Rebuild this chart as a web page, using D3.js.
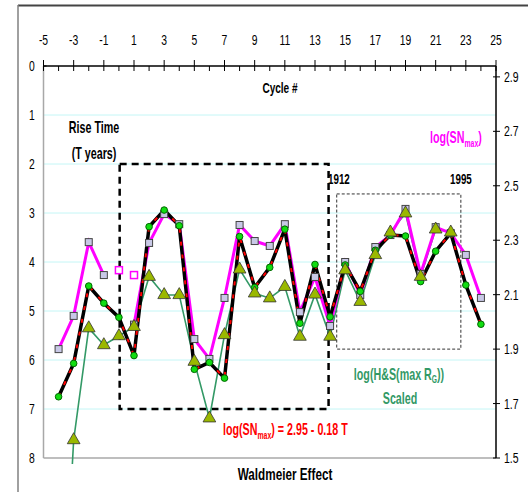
<!DOCTYPE html>
<meta charset="utf-8">
<script src="https://d3js.org/d3.v7.min.js"></script>
<style>
  body { margin: 0; background: #fff; }
  svg text { font-family: "Liberation Sans Narrow", "Arial Narrow", "Liberation Sans", Arial, sans-serif; }
</style>
<div id="chart"></div>
<script>
// cycle numbers along the top axis
var cycles = [-4,-3,-2,-1,0,1,2,3,4,5,6,7,8,9,10,11,12,13,14,15,16,17,18,19,20,21,22,23,24];
// rise time T (years), left axis
var riseTime = [6.75,6.07,4.49,4.84,5.13,5.91,3.28,2.94,3.26,6.19,6.05,6.37,3.48,4.52,4.11,3.33,5.25,4.05,5.12,4.06,4.6,3.76,3.45,3.47,4.40,3.78,3.41,4.47,5.27];
// log(SNmax), right axis
var logSN = [1.90,2.022,2.293,2.172,null,1.99,2.29,2.396,2.359,1.937,1.864,2.088,2.356,2.297,2.279,2.359,2.036,2.165,1.985,2.22,2.099,2.275,2.319,2.415,2.176,2.348,2.326,2.246,2.088];
// open squares (cycles 0 and 1)
var logSNAlt = [null,null,null,null,2.19,2.172,null,null,null,null,null,null,null,null,null,null,null,null,null,null,null,null,null,null,null,null,null,null,null];
// log(H&S(max RG)) scaled, right axis
var hsScaled = [0.55,1.566,1.977,1.915,1.948,1.982,2.166,2.099,2.099,1.854,1.646,1.952,2.193,2.105,2.087,2.129,1.946,2.101,1.946,2.19,2.074,2.246,2.329,2.399,2.166,2.34,2.329,null,null];

var topTicks = [-5,-3,-1,1,3,5,7,9,11,13,15,17,19,21,23,25];
var leftTicks = [0,1,2,3,4,5,6,7,8];
var rightTicks = [1.5,1.7,1.9,2.1,2.3,2.5,2.7,2.9];

var width = 528, height = 492;
var narrow = 0.74;  // squeeze plain text, the original font is condensed
var narrowB = 0.67; // bold text is squeezed a bit more

var svg = d3.select("#chart").append("svg")
    .attr("width", width)
    .attr("height", height);

var x = d3.scaleLinear().domain([-5, 25]).range([43.5, 496]);
var yT = d3.scaleLinear().domain([0, 8]).range([66, 458]);
var yR = d3.scaleLinear().domain([1.5, 2.94]).range([458, 66]);

// text helper: positioned by transform so it can be condensed
function label(g, px, py, size, opts) {
  opts = opts || {};
  var sx = opts.sx || (opts.bold ? narrowB : narrow);
  return g.append("text")
    .attr("transform", "translate(" + px + "," + py + ") scale(" + sx + ",1)")
    .attr("text-anchor", opts.anchor || "start")
    .attr("font-size", size)
    .attr("font-weight", opts.bold ? "bold" : null)
    .attr("fill", opts.fill || "#000");
}

// outer frame lines
svg.append("line").attr("x1", 18).attr("x2", width).attr("y1", 5.5).attr("y2", 5.5)
  .attr("stroke", "#444").attr("stroke-width", 2);
svg.append("line").attr("x1", 18).attr("x2", 18).attr("y1", 5).attr("y2", height)
  .attr("stroke", "#808080").attr("stroke-width", 1.5);

// gridlines
svg.append("g").selectAll("line")
  .data(leftTicks.filter(function(d){ return d > 0 && d < 8; }))
  .enter().append("line")
    .attr("x1", x(-5)).attr("x2", x(25))
    .attr("y1", function(d){ return yT(d); })
    .attr("y2", function(d){ return yT(d); })
    .attr("stroke", "#c4f6f6").attr("stroke-width", 1);

// plot border (left and bottom, grey)
svg.append("line").attr("x1", x(-5)).attr("x2", x(-5)).attr("y1", yT(0)).attr("y2", yT(8))
  .attr("stroke", "#a8a8a8").attr("stroke-width", 1.5);
svg.append("line").attr("x1", x(-5)).attr("x2", x(25)).attr("y1", yT(8)).attr("y2", yT(8))
  .attr("stroke", "#a8a8a8").attr("stroke-width", 1.5);

// top axis
var topAxis = svg.append("g").attr("transform", "translate(0," + yT(0) + ")");
topAxis.append("line").attr("x1", x(-5)).attr("x2", x(25)).attr("stroke", "#000").attr("stroke-width", 1.5);
topAxis.selectAll(".maj").data(topTicks).enter().append("line")
  .attr("x1", function(d){ return x(d); }).attr("x2", function(d){ return x(d); })
  .attr("y1", -6).attr("y2", 5).attr("stroke", "#000");
topAxis.selectAll(".min").data(d3.range(-4, 25, 2)).enter().append("line")
  .attr("x1", function(d){ return x(d); }).attr("x2", function(d){ return x(d); })
  .attr("y1", 0).attr("y2", 5).attr("stroke", "#000");
topTicks.forEach(function(d){
  label(topAxis, x(d), -21, 14, {anchor: "middle"}).text(d);
});

// left labels
var leftAxis = svg.append("g");
leftTicks.forEach(function(d){
  label(leftAxis, 32, yT(d) + 5, 14, {anchor: "middle"}).text(d);
});
svg.append("line").attr("x1", x(-5)).attr("x2", x(-5) + 3).attr("y1", yT(0)).attr("y2", yT(0)).attr("stroke", "#000");

// right axis
var rightAxis = svg.append("g").attr("transform", "translate(496,0)");
rightAxis.append("line").attr("y1", yT(0)).attr("y2", yT(8)).attr("stroke", "#000").attr("stroke-width", 1.5);
rightAxis.selectAll(".t").data(rightTicks).enter().append("line")
  .attr("x1", -3).attr("x2", 4)
  .attr("y1", function(d){ return yR(d); }).attr("y2", function(d){ return yR(d); })
  .attr("stroke", "#000");
rightTicks.forEach(function(d){
  label(rightAxis, 8, yR(d) + 5, 15, {sx: 0.7}).text(d.toFixed(1));
});

// annotation boxes
svg.append("rect")
  .attr("x", x(0.05)).attr("y", yT(2))
  .attr("width", x(13.9) - x(0.05)).attr("height", yT(7) - yT(2))
  .attr("fill", "none").attr("stroke", "#000").attr("stroke-width", 2.5)
  .attr("stroke-dasharray", "7,5");
svg.append("rect")
  .attr("x", x(14.44)).attr("y", yR(2.47))
  .attr("width", x(22.67) - x(14.44)).attr("height", yR(1.9) - yR(2.47))
  .attr("fill", "none").attr("stroke", "#333").attr("stroke-width", 1)
  .attr("stroke-dasharray", "3,2");

// clip
svg.append("defs").append("clipPath").attr("id", "clip")
  .append("rect").attr("x", x(-5)).attr("y", 55).attr("width", x(25) - x(-5)).attr("height", 409);

var plot = svg.append("g").attr("clip-path", "url(#clip)");

function pts(vals, scale) {
  return cycles.map(function(c, i){ return {c: c, v: vals[i], s: scale}; });
}
var line = d3.line()
  .defined(function(d){ return d.v != null; })
  .x(function(d){ return x(d.c); })
  .y(function(d){ return d.s(d.v); });

var hsData = pts(hsScaled, yR);
var snData = pts(logSN, yR);
var snAltData = pts(logSNAlt, yR).filter(function(d){ return d.v != null; });
var tData = pts(riseTime, yT);

// H&S line
plot.append("path").datum(hsData).attr("d", line)
  .attr("fill", "none").attr("stroke", "#339966").attr("stroke-width", 1.6);

// log SN line
plot.append("path").datum(snData).attr("d", line)
  .attr("fill", "none").attr("stroke", "#ff00ff").attr("stroke-width", 3);

// rise time line, black with red dashes
plot.append("path").datum(tData).attr("d", line)
  .attr("fill", "none").attr("stroke", "#000").attr("stroke-width", 3.5)
  .attr("stroke-linejoin", "round");
plot.append("path").datum(tData).attr("d", line)
  .attr("fill", "none").attr("stroke", "#ff0000").attr("stroke-width", 2)
  .attr("stroke-dasharray", "4,9");

// square markers
plot.selectAll(".sq").data(snData.filter(function(d){ return d.v != null; })).enter().append("rect")
  .attr("x", function(d){ return x(d.c) - 3.5; })
  .attr("y", function(d){ return yR(d.v) - 3.5; })
  .attr("width", 7).attr("height", 7)
  .attr("fill", "#c8c8e6").attr("stroke", "#444").attr("stroke-width", 1);
plot.selectAll(".osq").data(snAltData).enter().append("rect")
  .attr("x", function(d){ return x(d.c) - 3.5; })
  .attr("y", function(d){ return yR(d.v) - 3.5; })
  .attr("width", 7).attr("height", 7)
  .attr("fill", "#fff").attr("stroke", "#ff00ff").attr("stroke-width", 1.5);

// rise time markers
plot.selectAll(".dot").data(tData).enter().append("circle")
  .attr("cx", function(d){ return x(d.c); })
  .attr("cy", function(d){ return yT(d.v); })
  .attr("r", 3.3)
  .attr("fill", "#11dd11").attr("stroke", "#006600").attr("stroke-width", 1);

// triangles
var tri = d3.symbol().type(d3.symbolTriangle).size(70);
plot.selectAll(".tri").data(hsData.filter(function(d){ return d.v != null; })).enter().append("path")
  .attr("d", tri)
  .attr("transform", function(d){ return "translate(" + x(d.c) + "," + yR(d.v) + ")"; })
  .attr("fill", "#9ab800").attr("stroke", "#333").attr("stroke-width", 0.8);

// texts
var notes = svg.append("g");
label(notes, 280, 93, 15, {anchor: "middle", bold: true}).text("Cycle #");
label(notes, 94, 133, 16, {anchor: "middle", bold: true}).text("Rise Time");
label(notes, 94, 159, 16, {anchor: "middle", bold: true}).text("(T years)");

var sn = label(notes, 430, 143, 17, {bold: true, fill: "#ff00ff", sx: 0.63});
sn.append("tspan").text("log(SN");
sn.append("tspan").attr("font-size", 11).attr("dy", 4).text("max");
sn.append("tspan").attr("dy", -4).text(")");

label(notes, 328, 184, 14, {bold: true, sx: 0.7}).text("1912");
label(notes, 450, 184, 14, {bold: true, sx: 0.7}).text("1995");

var hs = label(notes, 399, 380, 16, {anchor: "middle", bold: true, fill: "#339966"});
hs.append("tspan").text("log(H&S(max R");
hs.append("tspan").attr("font-size", 10).attr("dy", 3).text("G");
hs.append("tspan").attr("dy", -3).text("))");
label(notes, 400, 404, 16, {anchor: "middle", bold: true, fill: "#339966"}).text("Scaled");

var eq = label(notes, 223, 435, 17, {bold: true, fill: "#ff0000", sx: 0.63});
eq.append("tspan").text("log(SN");
eq.append("tspan").attr("font-size", 11).attr("dy", 4).text("max");
eq.append("tspan").attr("dy", -4).text(") = 2.95 - 0.18 T");

label(notes, 285, 480, 17, {anchor: "middle", bold: true, sx: 0.69}).text("Waldmeier Effect");
</script>
